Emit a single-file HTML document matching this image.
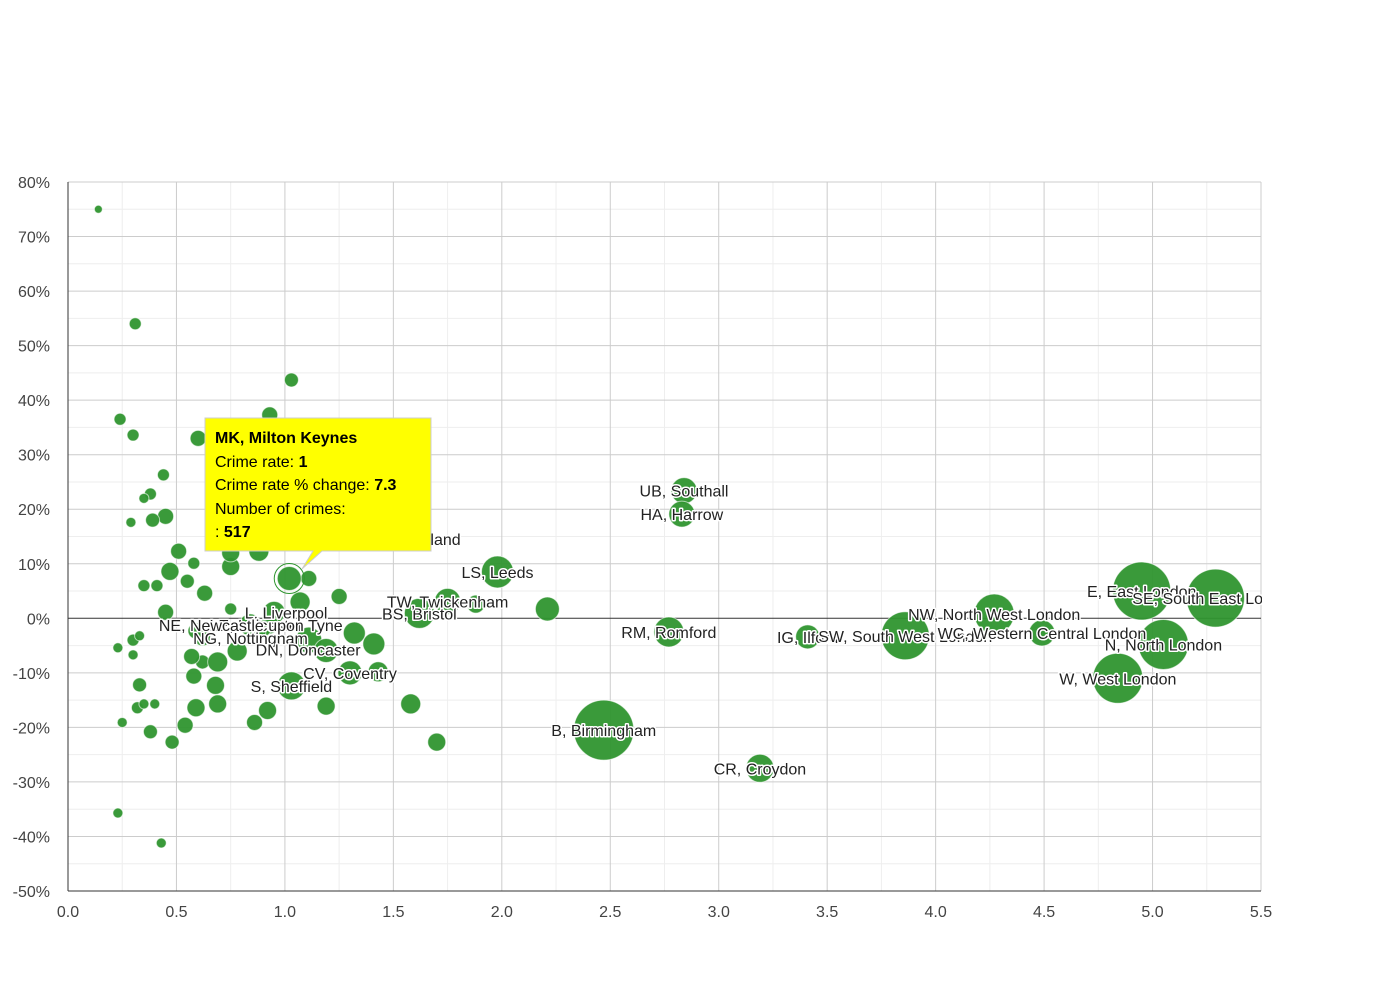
<!DOCTYPE html>
<html><head><meta charset="utf-8"><style>
body{margin:0;background:#fff;font-family:"Liberation Sans",Arial,sans-serif}
svg text{font-family:"Liberation Sans",Arial,sans-serif}
.lbl{font-size:16px;fill:#222;stroke:#fff;stroke-width:3px;paint-order:stroke;stroke-linejoin:round;text-anchor:middle}
.tick{font-size:16px;fill:#444}
</style></head><body>
<svg id="chart" width="1390" height="980" xmlns="http://www.w3.org/2000/svg">
<defs><clipPath id="plotclip"><rect x="68" y="182" width="1194" height="709"/></clipPath></defs>
<g id="grid"></g>
<g id="axes"></g>
<g id="bubbles" clip-path="url(#plotclip)"></g>
<g id="labels" clip-path="url(#plotclip)"></g>
<g>
<path d="M205,418 H431 V551 H322 L302,569 L313,551 H205 Z" fill="#ffff00" stroke="#cccccc" stroke-width="1"/>
<text x="215" y="443" font-size="16" font-weight="bold" fill="#000">MK, Milton Keynes</text>
<text x="215" y="467" font-size="16" fill="#000">Crime rate: <tspan font-weight="bold">1</tspan></text>
<text x="215" y="490" font-size="16" fill="#000">Crime rate % change: <tspan font-weight="bold">7.3</tspan></text>
<text x="215" y="514" font-size="16" fill="#000">Number of crimes:</text>
<text x="215" y="537" font-size="16" fill="#000">: <tspan font-weight="bold">517</tspan></text>
</g>
</svg>
<script>
const xTicks=[0,0.5,1,1.5,2,2.5,3,3.5,4,4.5,5,5.5];
const yTicks=[80,70,60,50,40,30,20,10,0,-10,-20,-30,-40,-50];
const crimeRate=[0.14,0.31,1.03,0.24,0.30,0.93,0.60,0.44,0.38,0.35,0.29,0.45,0.39,0.51,0.58,0.47,0.41,0.35,0.55,0.63,0.75,0.75,0.88,1.11,1.07,1.25,0.45,0.75,0.95,0.84,0.93,0.59,0.90,0.88,0.62,0.62,0.57,0.78,0.69,0.58,0.68,0.69,0.59,0.54,0.48,0.23,0.30,0.30,0.33,0.33,0.32,0.35,0.40,0.25,0.38,0.23,0.43,0.86,0.92,1.03,1.11,1.19,1.32,1.41,1.30,1.43,1.19,1.58,1.70,1.62,1.75,1.88,1.55,1.98,2.21,2.47,2.77,2.84,2.83,3.19,3.41,3.86,4.27,4.49,4.95,5.29,5.05,4.84,1.02];
const pctChange=[75,54,43.7,36.5,33.6,37.3,33,26.3,22.8,22,17.6,18.7,18,12.3,10.1,8.6,6,6,6.8,4.6,9.5,12,12.3,7.3,3,4,1.1,1.7,1.1,-1.2,-1.2,-2.3,-1.9,-2.5,-3.6,-8,-7,-6,-8,-10.6,-12.3,-15.7,-16.4,-19.6,-22.7,-5.4,-6.7,-4,-3.2,-12.2,-16.4,-15.7,-15.7,-19.1,-20.8,-35.7,-41.2,-19.1,-16.9,-12.4,-4,-5.9,-2.7,-4.7,-10,-9.8,-16.1,-15.7,-22.7,0.9,3.1,2.6,14.5,8.5,1.7,-20.5,-2.5,23.4,19.1,-27.5,-3.4,-3.2,0.8,-2.7,5,3.7,-4.8,-11,7.3];
const numCrimes=[57,129,176,129,129,230,230,129,129,90,90,230,176,230,129,291,129,129,176,230,291,291,359,230,359,230,230,129,434,434,291,230,230,176,230,176,230,359,359,230,291,291,291,230,176,90,90,129,90,176,129,90,90,90,176,90,90,230,291,704,607,517,434,434,517,359,291,359,291,808,607,291,434,919,517,3231,808,607,607,704,517,2068,1436,607,3019,3019,2244,2244,517];
const labelIdx=[28,29,34,59,60,61,64,69,70,72,73,75,76,77,78,79,80,81,82,83,84,85,86,87];
const labelText=["L, Liverpool","LE, Leicester","NG, Nottingham","S, Sheffield","NE, Newcastle upon Tyne","DN, Doncaster","CV, Coventry","BS, Bristol","TW, Twickenham","SR, Sunderland","LS, Leeds","B, Birmingham","RM, Romford","UB, Southall","HA, Harrow","CR, Croydon","IG, Ilford","SW, South West London","NW, North West London","WC, Western Central London","E, East London","SE, South East London","N, North London","W, West London"];
const labelDx=[12,6,48,0,-58,-18,0,0,0,0,0,0,0,0,0,0,0,0,0,0,0,0,0,0];
const labelDy=[0,0,0,0,-15,-1,0,0,0,0,0,0,0,0,0,0,0,0,0,0,0,0,0,0];
const X0=68,X1=1261,Y0=182,Y1=891;
const xS=v=>X0+(v-0)/(5.5-0)*(X1-X0);
const yS=v=>Y1-(v+50)/130*(Y1-Y0);
const rS=c=>Math.sqrt(c)/1.895;
const NS="http://www.w3.org/2000/svg";
function mk(tag,attrs,parent){const e=document.createElementNS(NS,tag);for(const k in attrs)e.setAttribute(k,attrs[k]);parent.appendChild(e);return e;}
const grid=document.getElementById('grid'),axes=document.getElementById('axes');
for(let i=0;i<xTicks.length-1;i++){const m=xS((xTicks[i]+xTicks[i+1])/2);const l=mk('line',{x1:m,x2:m,y1:Y0,y2:Y1,stroke:'#eeeeee'},grid);}
for(let i=0;i<yTicks.length-1;i++){const m=yS((yTicks[i]+yTicks[i+1])/2);const l=mk('line',{x1:X0,x2:X1,y1:m,y2:m,stroke:'#eeeeee'},grid);}
xTicks.forEach(t=>{const x=xS(t);const l=mk('line',{x1:x,x2:x,y1:Y0,y2:Y1,stroke:'#cccccc'},grid);
const tx=mk('text',{x:x,y:917,'text-anchor':'middle',class:'tick'},axes);tx.textContent=t.toFixed(1);});
yTicks.forEach(t=>{const y=yS(t);const l=mk('line',{x1:X0,x2:X1,y1:y,y2:y,stroke:t===0?'#333333':'#cccccc'},grid);
const tx=mk('text',{x:50,y:y+6,'text-anchor':'end',class:'tick'},axes);tx.textContent=t+'%';});
const ax=mk('line',{x1:X0,x2:X0,y1:Y0,y2:Y1,stroke:'#333'},axes);
const bx=mk('line',{x1:X0,x2:X1,y1:Y1,y2:Y1,stroke:'#333'},axes);
const bg=document.getElementById('bubbles');
crimeRate.forEach((v,i)=>{const cx=xS(v),cy=yS(pctChange[i]),r=rS(numCrimes[i]);
const c=mk('circle',{cx:cx,cy:cy,r:r,fill:'#2f952f','fill-opacity':0.95,stroke:'#ffffff','stroke-opacity':0.6,'stroke-width':1},bg);

if(i===crimeRate.length-1){const h=mk('circle',{cx:cx,cy:cy,r:r+3,fill:'none',stroke:'#2f952f','stroke-width':1},bg);}});
const lg=document.getElementById('labels');
labelIdx.forEach((idx,j)=>{const t=mk('text',{x:xS(crimeRate[idx])+labelDx[j],y:yS(pctChange[idx])+labelDy[j]+6,class:'lbl'},lg);t.textContent=labelText[j];});
</script>
</body></html>
